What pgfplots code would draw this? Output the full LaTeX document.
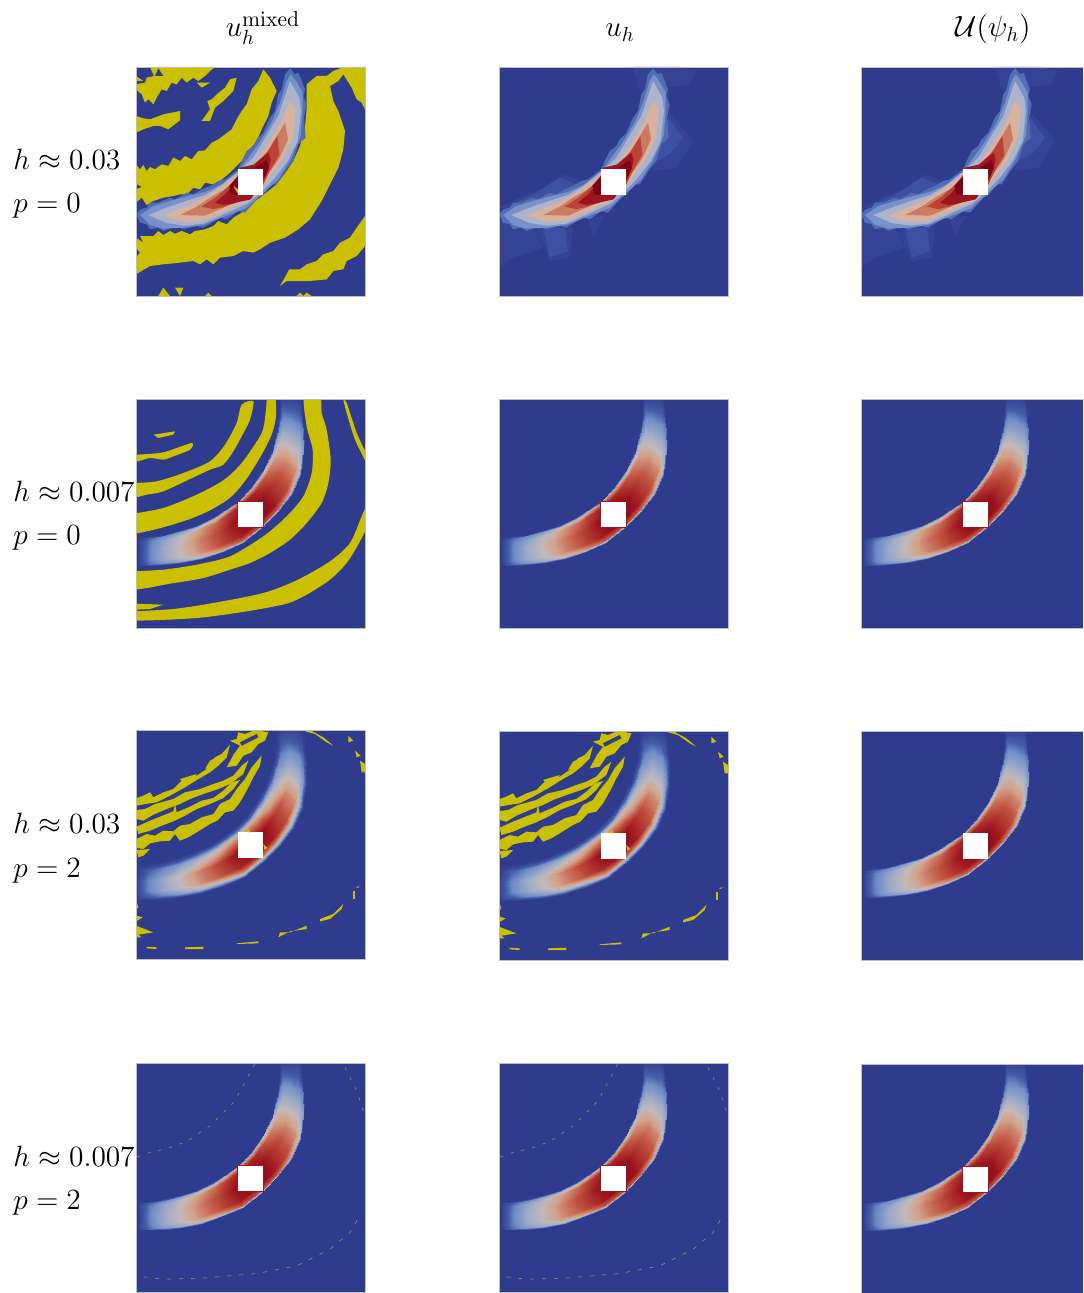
\documentclass[border=0pt]{standalone}
\usepackage{pgfplots}
\usepackage{pgfplotstable}
\pgfplotsset{compat=1.18}
\definecolor{bgblue}{RGB}{47,60,142}
\definecolor{ylw}{RGB}{203,192,0}

% crescent mesh: cross sections of 7 points, coordinates are 1/3 px inside a panel
\pgfplotstableread{
x y v
28 432 0
28 437 .02
28 446 .03
28 471 .03
28 501 .03
28 513 .02
28 518 0
60 430 0
60 435 .16
60 444 .22
60 470 .24
60 500 .23
60 513 .18
60 518 0
100 425 0
100 430 .25
100 440 .34
100 466 .38
100 498 .37
100 511 .29
100 516 0
150 412 0
150 418 .34
151 428 .47
152 456 .52
154 490 .5
155 504 .39
155 510 0
200 396 0
201 402 .43
202 412 .59
207 442 .66
212 478 .64
214 492 .5
215 498 0
250 372 0
252 378 .51
255 389 .7
264 419 .78
274 455 .76
278 470 .59
280 476 0
290 346 0
293 352 .6
298 363 .83
312 393 .92
330 429 .89
337 444 .69
340 450 0
323 323 0
328 328 .65
335 336 .9
358 359 1
385 386 .97
395 397 .75
400 402 0
360 285 0
365 289 .61
374 296 .85
398 317 .94
428 342 .91
440 352 .7
445 356 0
395 235 0
400 239 .52
409 246 .72
435 266 .8
467 291 .78
480 301 .6
485 305 0
425 175 0
430 179 .43
439 186 .59
464 206 .66
495 231 .64
507 241 .5
512 245 0
442 110 0
447 114 .29
455 120 .40
478 137 .44
507 158 .43
518 166 .33
523 170 0
448 70 0
452 72 .18
460 76 .25
481 88 .28
507 102 .27
518 108 .21
522 110 0
450 35 0
454 36 .07
460 37 .10
479 42 .11
502 47 .11
511 49 .08
515 50 0
450 18 0
454 18 .03
460 18 .04
478 18 .04
500 18 .04
508 18 .03
512 18 0
}\crescent

% same crescent with soft edges, row h=0.03 p=2
\pgfplotstableread{
x y v
18 418 0
18 427 0
18 439 .01
18 471 .03
18 501 .03
18 515 .02
18 528 0
55 416 0
55 425 .04
55 437 .14
55 470 .24
55 500 .23
55 514 .16
55 528 0
100 411 0
100 420 .06
100 432 .23
100 466 .38
100 498 .36
100 512 .25
100 526 0
149 398 0
150 407 .08
150 420 .31
152 456 .52
154 490 .49
155 506 .34
156 520 0
198 382 0
199 391 .1
201 404 .4
207 442 .66
212 478 .63
214 494 .43
217 508 0
246 359 0
249 367 .12
252 380 .47
264 419 .78
274 455 .74
279 472 .51
283 486 0
284 333 0
288 342 .14
294 354 .55
312 393 .92
330 429 .87
338 446 .6
344 459 0
313 313 0
320 319 .15
329 329 .6
358 359 1
385 386 .95
397 399 .65
407 409 0
349 276 0
356 282 .14
367 291 .56
398 317 .94
428 342 .89
442 353 .61
453 362 0
384 226 0
391 232 .12
402 241 .48
435 266 .8
467 291 .76
481 302 .52
493 311 0
414 166 0
421 172 .1
432 181 .4
464 206 .66
495 231 .63
508 242 .43
520 251 0
431 102 0
438 107 .07
448 115 .26
478 137 .44
507 158 .42
520 168 .29
531 176 0
436 63 0
444 68 .04
454 73 .17
481 88 .28
507 102 .27
519 108 .18
531 115 0
436 32 0
445 34 .02
455 36 .07
479 42 .11
502 47 .1
512 49 .07
525 52 0
436 18 0
445 18 .01
455 18 .02
478 18 .04
500 18 .04
510 18 .03
522 18 0
}\crescentsoft

\newcommand{\fillp}[2]{\addplot[fill=#1,draw=none] coordinates {#2} --cycle;}
\newcommand{\fills}[1]{\addplot[fill=ylw,draw=none,smooth,tension=.45] coordinates {#1};}
\newcommand{\hole}{\fillp{white}{(323,325)(400,325)(400,402)(323,402)}}
\newcommand{\holer}{\addplot[fill=white,draw=cb6,line width=.5pt] coordinates {(323,325)(400,325)(400,402)(323,402)} --cycle;}
\newcommand{\smooth}{\addplot[surf,shader=interp,mesh/cols=7,point meta=\thisrow{v}] table[x=x,y=y]{\crescent};}
\newcommand{\soft}{\addplot[surf,shader=interp,mesh/cols=7,point meta=\thisrow{v}] table[x=x,y=y]{\crescentsoft};}

% coarse mesh: nested bands
\newcommand{\coarse}{%
\fillp{cb0}{(18,460)(32,445)(50,440)(60,425)(85,425)(120,410)(135,415)(170,395)(190,400)(215,385)(240,375)(265,360)(285,355)(325,325)(335,300)(350,270)(370,255)(380,235)(400,215)(420,170)(435,150)(445,100)(455,85)(465,40)(480,22)(495,40)(505,35)(525,85)(520,105)(530,130)(522,170)(527,230)(505,250)(490,300)(470,325)(440,370)(425,370)(400,402)(385,410)(345,455)(325,450)(290,475)(270,470)(220,500)(200,495)(160,505)(140,495)(100,510)(85,500)(60,505)(50,490)(30,485)}
\fillp{cb1}{(30,462)(70,435)(120,420)(175,405)(225,393)(275,370)(325,330)(355,290)(385,250)(425,185)(450,125)(470,60)(482,40)(495,55)(518,95)(518,150)(512,225)(482,295)(445,355)(398,398)(347,442)(285,466)(220,492)(160,500)(100,503)(60,492)}
\fillp{cb2}{(55,462)(120,436)(180,416)(225,402)(270,376)(320,336)(370,290)(400,240)(445,165)(465,105)(480,60)(508,110)(513,150)(503,240)(473,300)(433,352)(392,396)(352,428)(295,454)(220,488)(165,494)(110,486)}
\fillp{cb3}{(100,465)(150,443)(200,422)(245,397)(280,372)(325,342)(375,306)(415,246)(450,190)(480,120)(497,140)(492,220)(462,290)(427,337)(392,386)(347,422)(290,448)(225,478)(165,484)}
\fillp{cb4}{(150,462)(200,437)(245,407)(290,382)(325,347)(380,312)(420,260)(465,185)(474,235)(448,292)(413,342)(382,382)(342,412)(285,438)(225,464)}
\fillp{cb5}{(215,437)(260,407)(300,372)(325,342)(365,316)(410,276)(442,225)(448,282)(418,332)(397,377)(362,402)(320,424)(280,438)(250,444)}
\fillp{cb6}{(255,425)(285,400)(310,370)(325,350)(330,320)(375,310)(415,275)(422,295)(416,322)(400,360)(362,415)(310,427)(280,432)}
\fillp{cb7}{(298,375)(325,345)(325,402)(305,400)}
\fillp{cb7}{(375,320)(410,298)(417,320)(402,352)(400,325)}
}
\newcommand{\shadow}{%
\fillp{cs0}{(420,18)(560,18)(610,30)(590,70)(520,80)(440,90)}
\fillp{cs0}{(18,440)(80,410)(150,380)(210,340)(260,360)(200,430)(100,450)}
\fillp{cs0}{(18,480)(130,510)(150,560)(60,590)(18,620)}
\fillp{cs0}{(130,500)(240,500)(230,590)(170,600)}
\fillp{cs0}{(285,470)(335,465)(300,525)}
\fillp{cs0}{(525,150)(600,240)(550,320)(480,330)}
\fillp{cs1}{(150,500)(215,500)(225,570)(170,590)}
\fillp{cs1}{(525,170)(570,230)(530,280)(490,300)}
\fillp{cs1}{(60,430)(140,390)(200,350)(250,370)(180,420)}
}
\newcommand{\ycoarse}{%
\fillp{ylw}{(60,18)(255,18)(240,30)(225,45)(205,60)(190,50)(170,65)(155,50)(140,70)(125,65)(110,90)(95,85)(80,110)(70,130)(55,115)(45,125)(35,100)(18,85)(18,70)(45,65)(50,50)(72,45)}
\fillp{bgblue}{(85,22)(100,45)(75,45)}
\fillp{ylw}{(18,165)(40,172)(60,175)(100,160)(150,150)(150,178)(115,205)(90,195)(70,195)(40,205)(18,215)}
\fillp{ylw}{(232,120)(245,115)(260,100)(285,80)(300,55)(320,50)(310,90)(280,120)(255,140)(240,180)(215,180)(240,145)}
\fillp{ylw}{(18,310)(30,325)(40,312)(50,330)(60,318)(75,325)(95,310)(115,315)(130,290)(150,300)(165,285)(185,295)(205,270)(225,268)(245,245)(265,235)(285,220)(305,205)(320,175)(335,150)(350,130)(365,85)(385,60)(400,25)(420,50)(440,90)(425,125)(415,165)(395,205)(380,240)(360,265)(345,290)(325,310)(300,335)(270,360)(250,370)(225,365)(210,385)(190,380)(170,400)(150,400)(130,405)(100,410)(70,420)(50,432)(35,410)(18,425)(18,385)(35,378)(18,368)}
\fillp{ylw}{(18,530)(40,545)(30,525)(70,525)(85,510)(100,522)(120,510)(135,518)(155,510)(180,520)(195,510)(225,505)(250,495)(265,480)(290,490)(310,470)(335,455)(370,425)(400,402)(440,370)(470,330)(490,300)(510,255)(525,200)(530,140)(530,70)(560,45)(590,45)(610,30)(640,18)(705,18)(705,145)(695,125)(680,115)(665,80)(640,40)(625,60)(600,75)(610,120)(625,150)(645,210)(640,265)(625,320)(600,370)(575,420)(540,475)(505,505)(465,530)(420,545)(390,565)(370,575)(340,570)(310,585)(270,590)(250,610)(230,595)(210,610)(190,600)(150,605)(100,610)(60,615)(18,640)(18,590)(30,575)(18,560)}
\fillp{ylw}{(450,675)(478,625)(510,625)(530,610)(560,600)(580,580)(610,570)(630,545)(660,530)(680,500)(705,465)(705,555)(680,585)(650,600)(640,625)(610,630)(590,655)(540,660)(470,660)}
\fillp{ylw}{(85,705)(100,680)(120,705)}
\fillp{ylw}{(135,680)(160,680)(150,705)}
\fillp{ylw}{(225,705)(235,695)(245,705)}
\fillp{ylw}{(500,705)(510,695)(520,705)(530,695)(545,705)}
\fillp{ylw}{(200,65)(240,65)(215,80)}
\fillp{ylw}{(18,45)(40,60)(18,60)}
}
\newcommand{\yfine}{%
\fillp{ylw}{(70,125)(135,115)(130,125)(85,135)}
\fills{(20,185)(100,178)(185,150)(180,170)(130,190)(100,200)(60,195)(20,205)(20,185)}
\fills{(10,270)(80,265)(160,240)(240,205)(285,155)(320,90)(335,35)(370,25)(360,80)(335,130)(310,175)(280,215)(240,230)(180,258)(100,295)(50,305)(10,312)(10,270)}
\fills{(10,362)(100,345)(200,305)(280,262)(335,210)(395,120)(408,50)(412,10)(435,10)(438,70)(425,125)(395,185)(355,250)(320,295)(290,322)(240,352)(180,378)(110,400)(50,415)(10,418)(10,362)}
\fills{(10,535)(100,530)(200,515)(300,490)(400,430)(470,370)(520,310)(545,240)(548,170)(530,100)(522,10)(570,10)(575,60)(590,110)(602,200)(595,270)(575,330)(530,390)(480,440)(420,480)(360,510)(300,530)(220,555)(120,572)(10,588)(10,535)}
\fills{(10,655)(130,648)(250,630)(400,600)(500,562)(600,505)(660,450)(695,370)(712,335)(712,395)(690,445)(650,510)(600,560)(530,605)(470,632)(350,655)(200,675)(10,682)(10,655)}
\fillp{ylw}{(20,632)(100,635)(60,648)(20,650)}
\fills{(640,22)(650,30)(680,120)(710,185)(710,210)(675,140)(650,60)(640,22)}
}
\newcommand{\ymid}{%
\fillp{ylw}{(20,345)(50,330)(75,335)(100,320)(130,322)(150,305)(180,300)(215,280)(250,270)(270,240)(300,225)(320,195)(345,165)(365,130)(395,95)(390,125)(370,160)(350,200)(330,235)(310,260)(285,265)(262,290)(240,300)(200,325)(175,340)(150,350)(135,330)(120,350)(90,352)(60,358)(40,375)(20,372)}
\fillp{ylw}{(20,308)(60,290)(90,278)(130,262)(135,240)(140,265)(175,250)(215,230)(250,222)(280,200)(305,175)(330,168)(310,195)(280,222)(240,240)(200,255)(165,275)(130,292)(95,305)(60,320)(25,330)}
\fillp{ylw}{(20,258)(45,255)(75,240)(130,225)(165,205)(210,195)(250,180)(280,170)(310,155)(335,125)(355,110)(340,150)(300,180)(265,195)(220,210)(180,225)(150,240)(110,255)(70,272)(40,290)(20,285)}
\fillp{ylw}{(20,222)(40,215)(60,205)(70,220)(100,205)(130,195)(160,165)(200,155)(230,135)(255,100)(275,90)(300,62)(290,100)(265,125)(240,145)(205,165)(165,190)(120,215)(80,235)(45,240)(20,245)}
\fillp{ylw}{(300,50)(320,45)(325,25)(345,30)(375,18)(415,25)(405,50)(385,60)(365,85)(340,95)(320,125)(290,130)(312,90)(330,65)}
\fillp{bgblue}{(330,55)(380,30)(385,40)(335,65)}
\fillp{ylw}{(240,110)(270,95)(250,125)(225,135)}
\fillp{ylw}{(150,165)(200,150)(195,160)(155,170)}
\fillp{ylw}{(20,378)(60,375)(40,395)(25,400)}
\fillp{ylw}{(525,22)(555,30)(590,55)(610,65)(580,40)(540,18)}
\fillp{ylw}{(655,35)(670,50)(655,55)}
\fillp{ylw}{(675,80)(692,95)(680,100)}
\fillp{ylw}{(690,110)(705,120)(705,145)(695,145)}
\fillp{ylw}{(18,530)(25,550)(18,555)}
\fillp{ylw}{(20,575)(38,580)(22,590)}
\fillp{ylw}{(18,605)(70,625)(25,632)(35,640)(18,640)}
\fillp{ylw}{(50,668)(80,670)(80,675)(50,673)}
\fillp{ylw}{(165,670)(220,668)(220,675)(165,675)}
\fillp{ylw}{(320,658)(385,652)(385,658)(320,660)}
\fillp{ylw}{(450,625)(480,625)(530,605)(530,615)(480,622)(445,640)}
\fillp{ylw}{(570,585)(610,570)(640,540)(635,555)(600,585)(570,592)}
\fillp{ylw}{(668,500)(676,500)(676,525)(668,525)}
\fillp{ylw}{(680,488)(692,488)(680,492)}
}
\newcommand{\yspeck}{%
\fillp{ylw}{(342,322)(360,318)(358,326)}
\fillp{ylw}{(400,360)(412,372)(403,378)}
}
\newcommand{\ythin}{%
\addplot[draw=thin,line width=.3pt,dash pattern=on 1.5pt off 4pt] coordinates {(22,298)(60,285)(115,272)(170,252)(240,205)(290,155)(315,130)(350,65)(375,18)};
\addplot[draw=thin,line width=.3pt,dash pattern=on 2pt off 4pt] coordinates {(40,658)(100,665)(215,662)(380,648)(500,625)(600,575)(660,525)(692,470)};
\addplot[draw=thin,line width=.3pt,dash pattern=on 1.5pt off 4pt] coordinates {(645,30)(680,100)(700,160)};
}
\definecolor{thin}{RGB}{150,150,80}
\definecolor{cb0}{RGB}{80,110,182}
\definecolor{cb1}{RGB}{120,145,200}
\definecolor{cb2}{RGB}{172,180,205}
\definecolor{cb3}{RGB}{215,178,158}
\definecolor{cb4}{RGB}{205,122,98}
\definecolor{cb5}{RGB}{188,66,52}
\definecolor{cb6}{RGB}{155,22,32}
\definecolor{cb7}{RGB}{125,0,25}
\definecolor{cs0}{RGB}{52,67,149}
\definecolor{cs1}{RGB}{62,80,162}

\pgfplotsset{panel/.style={
  width=114.5pt,height=114.5pt,scale only axis,
  xmin=18,xmax=705,ymin=18,ymax=705,y dir=reverse,
  ticks=none,no markers,axis on top,
  axis line style={draw=black!25,line width=.4pt},
  axis background/.style={fill=bgblue},
  anchor=north west,
  point meta min=0,point meta max=1,
  colormap={crescent}{rgb255(0cm)=(47,60,142); rgb255(3cm)=(70,95,170); rgb255(5cm)=(110,140,198);
    rgb255(8cm)=(160,172,200); rgb255(10cm)=(195,185,185); rgb255(12cm)=(212,160,135);
    rgb255(15cm)=(192,80,62); rgb255(18cm)=(160,25,32); rgb255(20cm)=(125,0,25)},
}}
\newcommand{\lab}[3]{\node[anchor=base west,font=\fontsize{14.4}{16}\selectfont,inner sep=0pt,scale=1.02] at (#1pt,#2pt) {#3};}
\newcommand{\ttl}[3]{\node[anchor=base,font=\fontsize{14.4}{16}\selectfont,inner sep=0pt,scale=1.02] at (#1pt,#2pt) {#3};}

\begin{document}
\begin{tikzpicture}
\path[use as bounding box] (0,0) rectangle (541.5pt,-646.5pt);
\clip (0,0) rectangle (541.5pt,-646.5pt);

\begin{axis}[panel,at={(68pt,-33.5pt)}]
\ycoarse \coarse \fillp{ylw}{(310,375)(325,385)(325,402)} \hole
\end{axis}
\begin{axis}[panel,at={(249.5pt,-33.5pt)}]
\shadow \coarse \hole
\end{axis}
\begin{axis}[panel,at={(430.5pt,-33.5pt)}]
\shadow \coarse \hole
\end{axis}

\begin{axis}[panel,at={(68pt,-199.5pt)}]
\yfine \smooth \holer
\end{axis}
\begin{axis}[panel,at={(249.5pt,-199.5pt)}]
\smooth \holer
\end{axis}
\begin{axis}[panel,at={(430.5pt,-199.5pt)}]
\smooth \holer
\end{axis}

\begin{axis}[panel,at={(68pt,-365pt)}]
\ymid \soft \hole \yspeck
\end{axis}
\begin{axis}[panel,at={(249.5pt,-365.5pt)}]
\ymid \soft \hole \yspeck
\end{axis}
\begin{axis}[panel,at={(430.5pt,-365.5pt)}]
\smooth \hole
\end{axis}

\begin{axis}[panel,at={(68pt,-531.75pt)}]
\ythin \smooth \holer
\end{axis}
\begin{axis}[panel,at={(249.5pt,-531.75pt)}]
\ythin \smooth \holer
\end{axis}
\begin{axis}[panel,at={(430.5pt,-532pt)}]
\smooth \holer
\end{axis}

\ttl{131.5}{-18.5}{$u_h^{\scalebox{1.06}{$\scriptstyle\mathrm{mixed}$}}$}
\ttl{310}{-18.5}{$u_h$}
\ttl{496.5}{-18.5}{$\mathcal{U}(\psi_h)$}
\lab{6.5}{-85}{$h\approx0.03$}
\lab{6.5}{-106.5}{$p=0$}
\lab{6.5}{-251}{$h\approx0.007$}
\lab{6.5}{-272}{$p=0$}
\lab{6.5}{-416.5}{$h\approx0.03$}
\lab{6.5}{-438.5}{$p=2$}
\lab{6.5}{-583}{$h\approx0.007$}
\lab{6.5}{-604.5}{$p=2$}
\end{tikzpicture}
\end{document}
